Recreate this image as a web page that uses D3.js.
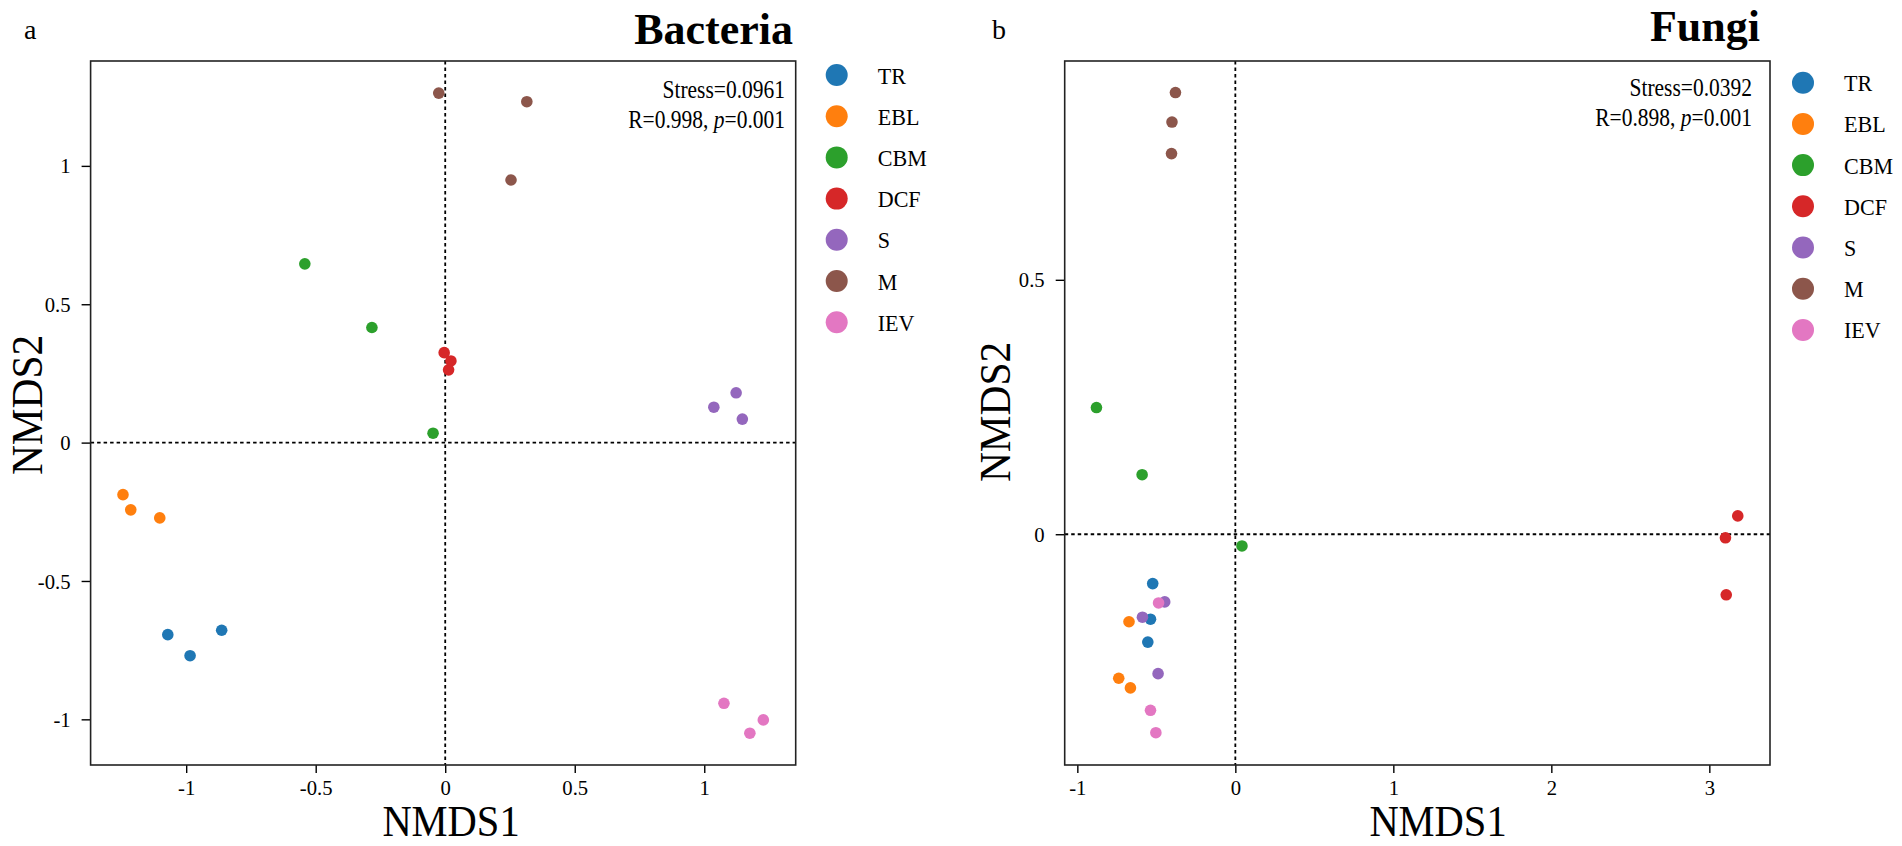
<!DOCTYPE html>
<html>
<head>
<meta charset="utf-8">
<script src="https://cdn.jsdelivr.net/npm/d3@7"></script>
<style>
  body { margin: 0; background: #fff; }
  svg { display: block; font-family: "Liberation Serif", "Times New Roman", serif; }
</style>
</head>
<body>
<div id="main_area"></div>
<script>
// groups and colours
var groups = ["TR", "EBL", "CBM", "DCF", "S", "M", "IEV"];
var colors = ["#1f77b4", "#ff7f0e", "#2ca02c", "#d62728", "#9467bd", "#8c564b", "#e377c2"];

// Bacteria NMDS scores, one list of [NMDS1, NMDS2] per group
var bacTR  = [[-1.071, -0.694], [-0.985, -0.770], [-0.863, -0.678]];
var bacEBL = [[-1.244, -0.188], [-1.214, -0.243], [-1.102, -0.272]];
var bacCBM = [[-0.542, 0.646], [-0.283, 0.416], [-0.047, 0.034]];
var bacDCF = [[-0.004, 0.325], [0.022, 0.295], [0.013, 0.263]];
var bacS   = [[1.037, 0.128], [1.123, 0.180], [1.147, 0.085]];
var bacM   = [[-0.025, 1.263], [0.315, 1.232], [0.254, 0.949]];
var bacIEV = [[1.076, -0.942], [1.228, -1.002], [1.176, -1.050]];

// Fungi NMDS scores
var funTR  = [[-0.523, -0.097], [-0.537, -0.167], [-0.554, -0.212]];
var funEBL = [[-0.673, -0.172], [-0.738, -0.283], [-0.664, -0.302]];
var funCBM = [[-0.879, 0.249], [-0.590, 0.117], [0.042, -0.023]];
var funDCF = [[3.180, 0.036], [3.102, -0.007], [3.107, -0.119]];
var funS   = [[-0.447, -0.133], [-0.588, -0.163], [-0.489, -0.274]];
var funM   = [[-0.379, 0.868], [-0.401, 0.810], [-0.404, 0.748]];
var funIEV = [[-0.486, -0.135], [-0.537, -0.346], [-0.503, -0.390]];

// tick values
var bacXTicks = [-1, -0.5, 0, 0.5, 1];
var bacYTicks = [-1, -0.5, 0, 0.5, 1];
var funXTicks = [-1, 0, 1, 2, 3];
var funYTicks = [0, 0.5];

var svg = d3.select("div#main_area")
    .append("svg")
    .attr("width", 1902)
    .attr("height", 846);

// text in the source figure is a bit narrow, so squeeze it horizontally
function label(g, x, y, size, sx, anchor, str) {
    return g.append("text")
        .attr("transform", "translate(" + x + "," + y + ") scale(" + sx + ",1)")
        .attr("text-anchor", anchor)
        .attr("font-size", size)
        .text(str);
}

function drawPanel(p) {
    var xScale = d3.scaleLinear().domain(p.xDomain).range([p.left, p.right]);
    var yScale = d3.scaleLinear().domain(p.yDomain).range([p.bottom, p.top]);
    var g = svg.append("g");

    // 0 lines
    g.append("line")
        .attr("x1", p.left).attr("x2", p.right)
        .attr("y1", yScale(0)).attr("y2", yScale(0))
        .attr("stroke", "#000").attr("stroke-width", 1.8)
        .attr("stroke-dasharray", "3.5,3");
    g.append("line")
        .attr("x1", xScale(0)).attr("x2", xScale(0))
        .attr("y1", p.top).attr("y2", p.bottom)
        .attr("stroke", "#000").attr("stroke-width", 1.8)
        .attr("stroke-dasharray", "3.5,3");

    // points
    var pts = [];
    p.series.forEach(function (s, i) {
        s.forEach(function (d) { pts.push({x: d[0], y: d[1], i: i}); });
    });
    g.append("g").selectAll("circle")
        .data(pts)
        .enter()
        .append("circle")
        .attr("cx", function (d) { return xScale(d.x); })
        .attr("cy", function (d) { return yScale(d.y); })
        .attr("r", 5.8)
        .attr("fill", function (d) { return colors[d.i]; });

    // axes
    var xAxis = g.append("g")
        .attr("transform", "translate(0," + p.bottom + ")")
        .call(d3.axisBottom(xScale).tickValues(p.xTicks).tickSize(8).tickPadding(6)
            .tickFormat(function (d) { return String(d); }));
    var yAxis = g.append("g")
        .attr("transform", "translate(" + p.left + ",0)")
        .call(d3.axisLeft(yScale).tickValues(p.yTicks).tickSize(9).tickPadding(11)
            .tickFormat(function (d) { return String(d); }));
    [xAxis, yAxis].forEach(function (a) {
        a.select(".domain").remove();
        a.selectAll("line").attr("stroke", "#000").attr("stroke-width", 1.4);
        a.selectAll("text")
            .attr("font-family", "Liberation Serif")
            .attr("font-size", 22)
            .attr("fill", "#000")
            .attr("transform", "scale(0.94,1)");
    });
    yAxis.selectAll("text").attr("x", -20 / 0.94);

    // frame
    g.append("rect")
        .attr("x", p.left).attr("y", p.top)
        .attr("width", p.right - p.left).attr("height", p.bottom - p.top)
        .attr("fill", "none").attr("stroke", "#222").attr("stroke-width", 1.6);

    // axis titles
    label(g, p.xLabelX, 836, 45, 0.9, "middle", "NMDS1");
    g.append("text")
        .attr("transform", "translate(" + p.yLabelX + "," + p.yLabelY + ") rotate(-90) scale(0.94,1)")
        .attr("text-anchor", "middle")
        .attr("font-size", 44)
        .text("NMDS2");

    // panel letter and title
    label(g, p.letterX, 39, 28, 1, "start", p.letter);
    label(g, p.titleX, p.titleY, 44, 1, "end", p.title)
        .attr("font-weight", "bold");

    // stress / anosim
    label(g, p.statX, p.statY, 25, 0.86, "end", "Stress=" + p.stress);
    var t = label(g, p.statX, p.statY + 30, 25, 0.86, "end", null);
    t.append("tspan").text("R=" + p.r + ", ");
    t.append("tspan").attr("font-style", "italic").text("p");
    t.append("tspan").text("=" + p.p);

    // legend
    var leg = g.append("g").selectAll("g")
        .data(groups)
        .enter()
        .append("g")
        .attr("transform", function (d, i) {
            return "translate(" + p.legendX + "," + (p.legendY + i * 41.2) + ")";
        });
    leg.append("circle")
        .attr("r", 11)
        .attr("fill", function (d, i) { return colors[i]; });
    leg.append("text")
        .attr("transform", "translate(41,8.5) scale(0.92,1)")
        .attr("font-size", 24)
        .text(function (d) { return d; });
}

drawPanel({
    series: [bacTR, bacEBL, bacCBM, bacDCF, bacS, bacM, bacIEV],
    xDomain: [-1.369, 1.353], yDomain: [-1.165, 1.379],
    left: 90.6, right: 795.7, top: 61, bottom: 765,
    xTicks: bacXTicks, yTicks: bacYTicks,
    xLabelX: 451, yLabelX: 42, yLabelY: 405,
    letter: "a", letterX: 24, title: "Bacteria", titleX: 793, titleY: 44,
    stress: "0.0961", r: "0.998", p: "0.001", statX: 785, statY: 98,
    legendX: 836.7, legendY: 75
});

drawPanel({
    series: [funTR, funEBL, funCBM, funDCF, funS, funM, funIEV],
    xDomain: [-1.08, 3.384], yDomain: [-0.4535, 0.930],
    left: 1064.7, right: 1770, top: 61, bottom: 765,
    xTicks: funXTicks, yTicks: funYTicks,
    xLabelX: 1438, yLabelX: 1010, yLabelY: 412,
    letter: "b", letterX: 992, title: "Fungi", titleX: 1760, titleY: 41,
    stress: "0.0392", r: "0.898", p: "0.001", statX: 1752, statY: 96,
    legendX: 1803, legendY: 82.7
});
</script>
</body>
</html>
